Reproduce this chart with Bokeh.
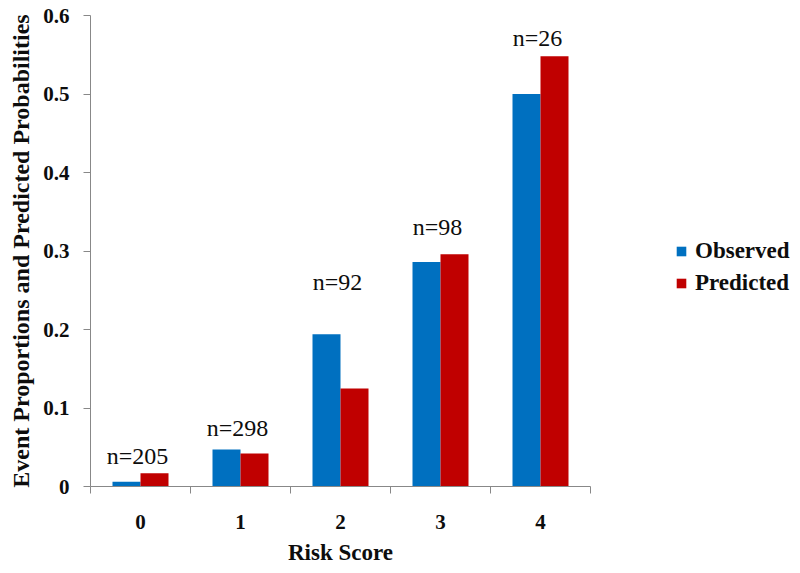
from bokeh.plotting import figure
from bokeh.models import ColumnDataSource, FixedTicker, Range1d, Legend, LegendItem, LabelSet
from bokeh.transform import dodge
from bokeh.embed import file_html
from bokeh.resources import INLINE

scores = [0, 1, 2, 3, 4]
score_labels = ["0", "1", "2", "3", "4"]
observed = [0.006, 0.047, 0.194, 0.286, 0.500]
predicted = [0.017, 0.042, 0.125, 0.296, 0.548]
n_labels = ["n=205", "n=298", "n=92", "n=98", "n=26"]
n_label_y = [0.039, 0.074, 0.261, 0.331, 0.571]

BLUE = "#0070C0"
RED = "#C00000"
AXIS = "#888888"
FONT = "Liberation Serif"
TXT = "#0d0d0d"

p = figure(frame_width=500, frame_height=471, output_backend="svg", toolbar_location=None,
           x_range=Range1d(-0.5, 4.5), y_range=Range1d(0, 0.6),
           min_border_left=90, min_border_right=0, min_border_top=15, min_border_bottom=71)
p.outline_line_color = None
p.xgrid.visible = False
p.ygrid.visible = False

src = ColumnDataSource(dict(x=scores, obs=observed, pred=predicted, lab=n_labels, ly=n_label_y))
width = 0.28
r_obs = p.vbar(x=dodge("x", -0.14), top="obs", width=width, source=src,
               fill_color=BLUE, line_color=None)
r_pred = p.vbar(x=dodge("x", 0.14), top="pred", width=width, source=src,
                fill_color=RED, line_color=None)

labels = LabelSet(x="x", y="ly", text="lab", source=src, text_align="center",
                  text_baseline="middle", text_font=FONT, text_font_size="24px",
                  text_color=TXT, x_offset=-3)
p.add_layout(labels)

# x axis
p.xaxis.ticker = FixedTicker(ticks=scores, minor_ticks=[-0.5, 0.5, 1.5, 2.5, 3.5, 4.5])
p.xaxis.major_label_overrides = {s: l for s, l in zip(scores, score_labels)}
p.xaxis.major_tick_out = 0
p.xaxis.major_tick_in = 0
p.xaxis.minor_tick_out = 7
p.xaxis.minor_tick_in = 0
p.xaxis.minor_tick_line_color = AXIS
p.xaxis.axis_line_color = AXIS
p.xaxis.major_label_standoff = 21
p.xaxis.major_label_text_font = FONT
p.xaxis.major_label_text_font_style = "bold"
p.xaxis.major_label_text_font_size = "21px"
p.xaxis.major_label_text_color = TXT
p.xaxis.axis_label = "Risk Score"
p.xaxis.axis_label_text_font = FONT
p.xaxis.axis_label_text_font_style = "bold"
p.xaxis.axis_label_text_font_size = "23px"
p.xaxis.axis_label_standoff = 8
p.xaxis.axis_label_text_color = TXT

# y axis
yticks = [0, 0.1, 0.2, 0.3, 0.4, 0.5, 0.6]
p.yaxis.ticker = FixedTicker(ticks=yticks, minor_ticks=[])
p.yaxis.major_label_overrides = {0: "0", 0.1: "0.1", 0.2: "0.2", 0.3: "0.3",
                                 0.4: "0.4", 0.5: "0.5", 0.6: "0.6"}
p.yaxis.major_tick_out = 7
p.yaxis.major_tick_in = 0
p.yaxis.major_tick_line_color = AXIS
p.yaxis.axis_line_color = AXIS
p.yaxis.major_label_standoff = 14
p.yaxis.major_label_text_font = FONT
p.yaxis.major_label_text_font_style = "bold"
p.yaxis.major_label_text_font_size = "21px"
p.yaxis.major_label_text_color = TXT
p.yaxis.axis_label = "Event Proportions and Predicted Probabilities"
p.yaxis.axis_label_text_font = FONT
p.yaxis.axis_label_text_font_style = "bold"
p.yaxis.axis_label_text_font_size = "24px"
p.yaxis.axis_label_standoff = 6
p.yaxis.axis_label_text_color = TXT

legend = Legend(items=[LegendItem(label="Observed", renderers=[r_obs]),
                       LegendItem(label="Predicted", renderers=[r_pred])],
                location=(85, 190), orientation="vertical", margin=0, padding=10,
                label_text_font=FONT, label_text_font_style="bold", label_text_font_size="23px",
                label_text_color=TXT, glyph_width=12, glyph_height=12, spacing=6,
                border_line_color=None, background_fill_alpha=0, label_standoff=8)
p.add_layout(legend, "right")

open("out.html", "w").write(file_html(p, INLINE))
